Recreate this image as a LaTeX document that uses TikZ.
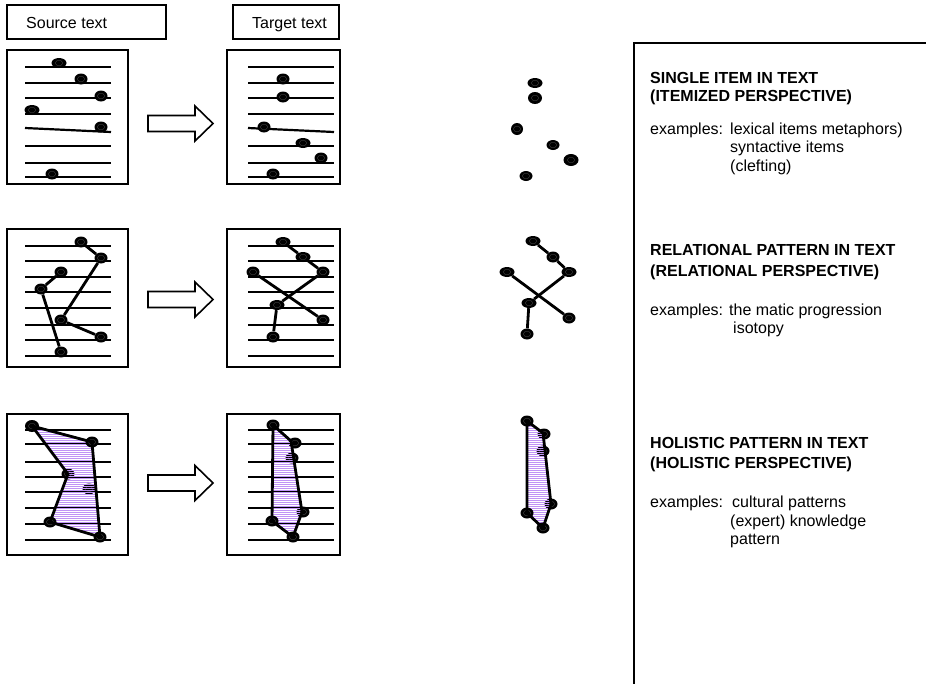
\documentclass[tikz,border=0pt]{standalone}
\usepackage{fontspec}
\setmainfont{Liberation Sans}
\usetikzlibrary{shapes.geometric}
\definecolor{hatchc}{RGB}{192,148,245}
\begin{document}
\begin{tikzpicture}[x=1pt,y=-1pt,
  frame/.style={draw=black,line width=2pt},
  rulel/.style={line width=2.2pt},
  link/.style={line width=2.8pt},
  outline/.style={line width=2.8pt,line join=round},
  dot/.style={ellipse,fill=black,inner sep=0pt,minimum width=13pt,minimum height=11pt,
    path picture={\draw[black!72,line width=0.35pt] (path picture bounding box.center) ellipse (3.6pt and 2.8pt);}},
  wdot/.style={dot,minimum width=15pt,minimum height=10pt},
  hatchline/.style={line width=0.9pt,hatchc},
  bigarrow/.style={draw=black,line width=1.6pt,fill=white,line join=miter},
  txt/.style={font=\fontsize{16}{18}\selectfont,anchor=base west,inner sep=0pt},
  ttl/.style={font=\fontsize{16}{18}\selectfont\bfseries,anchor=base west,inner sep=0pt},
]
\useasboundingbox (0,0) rectangle (926,683);
\fill[white] (0,0) rectangle (926,683);

% header boxes
\draw[frame,line width=1.6pt] (7,5) rectangle (166,39);
\node[txt] (srclabel) at (26,28) {Source text};
\draw[frame,line width=1.6pt] (233,5) rectangle (339,39);
\node[txt] (tgtlabel) at (252,28) {Target text};

% ---------- ROW 1 ----------
\draw[frame] (7,50) rectangle (128,184);
\draw[frame] (227,50) rectangle (340,184);
\foreach \y in {67,83,98,114,146,163,177}{
  \draw[rulel] (25,\y) -- (111,\y);
  \draw[rulel] (248,\y) -- (334,\y);
}
\draw[rulel] (25,128) -- (111,132);
\draw[rulel] (248,128) -- (334,132);

\node[wdot] (s1a) at (59,63) {};
\node[dot] (s1b) at (81,79) {};
\node[dot] (s1c) at (101,96) {};
\node[wdot] (s1d) at (32,110) {};
\node[dot] (s1e) at (101,127) {};
\node[dot] (s1f) at (52,174) {};

\node[dot] (t1a) at (283,79) {};
\node[dot] (t1b) at (283,97) {};
\node[dot] (t1c) at (264,127) {};
\node[wdot] (t1d) at (303,143) {};
\node[dot] (t1e) at (321,158) {};
\node[dot] (t1f) at (273,174) {};

\node[wdot] (m1a) at (535,83) {};
\node[dot,minimum width=14pt,minimum height=12pt] (m1b) at (535,98) {};
\node[dot,minimum width=12pt,minimum height=12pt] (m1c) at (517,129) {};
\node[wdot,minimum width=13pt,minimum height=10pt] (m1d) at (553,145) {};
\node[dot,minimum width=15pt,minimum height=12pt] (m1e) at (571,160) {};
\node[wdot,minimum width=13pt,minimum height=10pt] (m1f) at (526,176) {};

\draw[bigarrow] (148,115.5) -- (195,115.5) -- (195,106) -- (213,123.5) -- (195,141) -- (195,131.5) -- (148,131.5) -- cycle;

% ---------- ROW 2 ----------
\draw[frame] (7,229) rectangle (128,367);
\draw[frame] (227,229) rectangle (340,367);
\foreach \y in {246,261,277,292,308,325,340,356}{
  \draw[rulel] (25,\y) -- (111,\y);
  \draw[rulel] (248,\y) -- (334,\y);
}
\node[dot] (s2a) at (81,242) {};
\node[dot] (s2b) at (101,258) {};
\node[dot] (s2c) at (61,272) {};
\node[dot] (s2d) at (41,289) {};
\node[dot] (s2e) at (61,320) {};
\node[dot] (s2f) at (101,337) {};
\node[dot] (s2g) at (61,352) {};
\draw[link] (s2a) -- (s2b) -- (s2e) -- (s2f);
\draw[link] (s2c) -- (s2d) -- (s2g);

\node[wdot] (t2a) at (283,242) {};
\node[wdot] (t2b) at (303,257) {};
\node[dot] (t2c) at (323,272) {};
\node[dot] (t2d) at (253,272) {};
\node[wdot] (t2e) at (277,305) {};
\node[dot] (t2f) at (323,320) {};
\node[dot] (t2g) at (273,337) {};
\draw[link] (t2a) -- (t2b) -- (t2c) -- (t2e) -- (t2g);
\draw[link] (t2d) -- (t2f);

\node[wdot] (m2a) at (533,241) {};
\node[dot] (m2b) at (553,257) {};
\node[wdot] (m2c) at (569,272) {};
\node[wdot] (m2d) at (507,272) {};
\node[wdot] (m2e) at (529,303) {};
\node[dot] (m2f) at (569,318) {};
\node[dot] (m2g) at (527,334) {};
\draw[link] (m2a) -- (m2b) -- (m2c) -- (m2e) -- (m2g);
\draw[link] (m2d) -- (m2f);

\draw[bigarrow] (148,291.5) -- (195,291.5) -- (195,282) -- (213,299.5) -- (195,317) -- (195,307.5) -- (148,307.5) -- cycle;

% ---------- ROW 3 ----------
\draw[frame] (7,414) rectangle (128,555);
\draw[frame] (227,414) rectangle (340,555);
\foreach \y in {430,444,462,477,492,508,524,540}{
  \draw[rulel] (25,\y) -- (111,\y);
  \draw[rulel] (248,\y) -- (334,\y);
}
% source polygon
\node[dot] (s3c) at (68,474) {};
\node[dot] (s3d) at (89,489) {};
\begin{scope}
  \clip (32,426) -- (93,442) -- (100,537) -- (50,522) -- (68,473) -- cycle;
  \foreach \y in {420,422,...,546}{\draw[hatchline] (20,\y) -- (115,\y);}
\end{scope}
\node[wdot,minimum width=14pt,minimum height=12pt] (s3a) at (32,426) {};
\node[dot] (s3b) at (92,442) {};
\node[dot] (s3e) at (50,522) {};
\node[dot] (s3f) at (100,537) {};
\draw[outline] (s3a.center) -- (s3b.center) -- (s3f.center) -- (s3e.center) -- (s3c.center) -- cycle;

% target polygon
\node[dot] (t3c) at (292,458) {};
\node[dot] (t3d) at (303,512) {};
\node[dot] (t3b) at (295,443) {};
\begin{scope}
  \clip (273,425) -- (291,441) -- (302,512) -- (293,537) -- (272,521) -- cycle;
  \foreach \y in {420,422,...,546}{\draw[hatchline] (260,\y) -- (315,\y);}
\end{scope}
\node[dot] (t3a) at (273,425) {};
\node[dot] (t3e) at (293,537) {};
\node[dot] (t3f) at (272,521) {};
\draw[outline] (t3a.center) -- (291,441) -- (302,512) -- (t3e.center) -- (t3f.center) -- cycle;

% middle polygon
\node[dot] (m3c) at (543,451) {};
\node[dot] (m3d) at (551,504) {};
\node[dot] (m3b) at (544,434) {};
\begin{scope}
  \clip (527,421) -- (543,433) -- (551,504) -- (543,528) -- (527,513) -- cycle;
  \foreach \y in {416,418,...,536}{\draw[hatchline] (520,\y) -- (560,\y);}
\end{scope}
\node[dot] (m3a) at (527,421) {};
\node[dot] (m3e) at (543,528) {};
\node[dot] (m3f) at (527,513) {};
\draw[outline] (m3a.center) -- (543,433) -- (551,504) -- (m3e.center) -- (m3f.center) -- cycle;

\draw[bigarrow] (148,475) -- (195,475) -- (195,465.5) -- (213,483) -- (195,500.5) -- (195,491) -- (148,491) -- cycle;

% ---------- RIGHT PANEL ----------
\draw[line width=2pt] (940,43) -- (634,43) -- (634,700);

\node[ttl] (h1a) at (650,83) {SINGLE ITEM IN TEXT};
\node[ttl] (h1b) at (650,101) {(ITEMIZED PERSPECTIVE)};
\node[txt] (e1a) at (650,134) {examples:};
\node[txt] (e1b) at (730,134) {lexical items metaphors)};
\node[txt] (e1c) at (730,152) {syntactive items};
\node[txt] (e1d) at (730,171) {(clefting)};

\node[ttl] (h2a) at (650,255) {RELATIONAL PATTERN IN TEXT};
\node[ttl] (h2b) at (650,276) {(RELATIONAL PERSPECTIVE)};
\node[txt] (e2a) at (650,315) {examples:};
\node[txt] (e2b) at (729,315) {the matic progression};
\node[txt] (e2c) at (733,333) {isotopy};

\node[ttl] (h3a) at (650,448) {HOLISTIC PATTERN IN TEXT};
\node[ttl] (h3b) at (650,468) {(HOLISTIC PERSPECTIVE)};
\node[txt] (e3a) at (650,507) {examples:};
\node[txt] (e3b) at (732,507) {cultural patterns};
\node[txt] (e3c) at (730,526) {(expert) knowledge};
\node[txt] (e3d) at (730,544) {pattern};
\end{tikzpicture}
\end{document}
